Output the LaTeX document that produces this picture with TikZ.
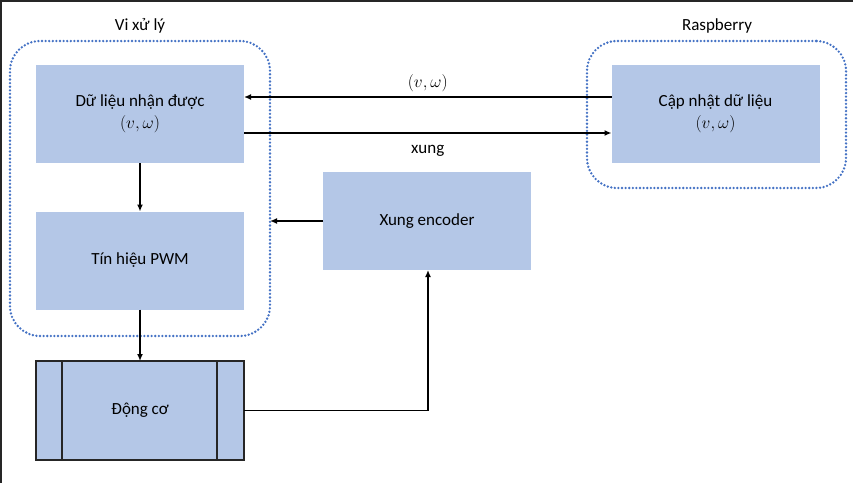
\documentclass[tikz,border=0pt]{standalone}
\usepackage{fontspec}
\setmainfont{Carlito}
\usepackage{amsmath,amssymb}
\usepackage{tikz}

\definecolor{boxblue}{RGB}{180,199,231}
\definecolor{dotblue}{RGB}{68,114,196}

\tikzset{
  block/.style={fill=boxblue, minimum width=208pt, minimum height=98pt,
    inner sep=0pt, outer sep=0pt, align=center},
  group/.style={draw=dotblue, line width=2.6pt, line cap=round,
    dash pattern=on 0pt off 3.6pt, rounded corners=30pt,
    inner sep=0pt, outer sep=0pt},
  link/.style={line width=1.8pt, -{Latex[length=7pt,width=6pt]}},
}
\usetikzlibrary{arrows.meta}

\begin{document}
\begin{tikzpicture}[x=1pt, y=-1pt, font=\fontsize{17}{22}\selectfont]
  \useasboundingbox (0,0) rectangle (853,483);
  \draw[line width=1.6pt, black!85] (0,1) -- (853,1);
  \draw[line width=1.6pt, black!85] (1,0) -- (1,483);

  \node[group, minimum width=260pt, minimum height=295pt] (cpu) at (140,188.5) {};
  \node[group, minimum width=259pt, minimum height=147pt] (rpi) at (716.5,114.5) {};
  \node (cpulabel) at (140,26) {Vi xử lý};
  \node (rpilabel) at (717,26) {Raspberry};

  \node[block] (data) at (140,114) {Dữ liệu nhận được\\$(v,\omega)$};
  \node[block] (pwm) at (140,260.5) {Tín hiệu PWM};
  \node[block] (enc) at (427,221) {Xung encoder};
  \node[block] (update) at (715.5,114) {Cập nhật dữ liệu\\$(v,\omega)$};
  \node[block, draw=black!85, line width=1.5pt, minimum height=99pt] (motor) at (140,410.5) {Động cơ};
  \draw[line width=1.5pt, black!85] ([xshift=26pt]motor.north west) -- ([xshift=26pt]motor.south west);
  \draw[line width=1.5pt, black!85] ([xshift=-27pt]motor.north east) -- ([xshift=-27pt]motor.south east);

  \draw[link] ([yshift=17pt]update.west) -- node[above=1pt] (vwlabel) {$(v,\omega)$} ([yshift=17pt]data.east);
  \draw[link] ([yshift=-19pt]data.east) -- node[below=8pt] (xunglabel) {xung} ([yshift=-19pt]update.west);
  \draw[link] (data) -- (pwm);
  \draw[link] (pwm) -- (motor);
  \draw[link] (enc.west) -- (enc.west -| cpu.east);
  \draw[link] (motor.east) -| ([xshift=1pt]enc.south);
\end{tikzpicture}
\end{document}
